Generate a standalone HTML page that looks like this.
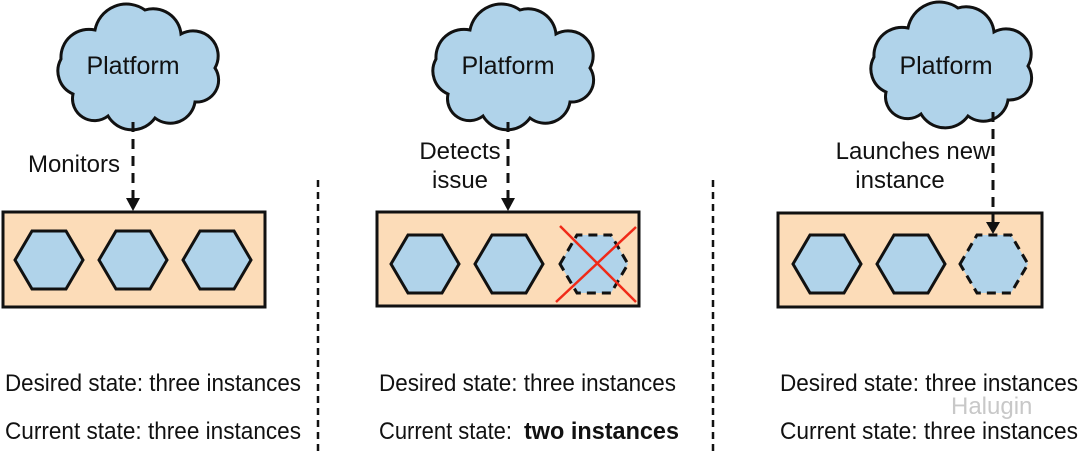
<!DOCTYPE html>
<html><head><meta charset="utf-8"><style>
html,body{margin:0;padding:0;background:#fff;width:1080px;height:454px;overflow:hidden}
text{font-family:"Liberation Sans Narrow","Liberation Sans",sans-serif;fill:#111}
</style></head><body>
<svg width="1080" height="454" viewBox="0 0 1080 454" xmlns="http://www.w3.org/2000/svg">
<defs>
<path id="cloud" d="M -60,30 A 25 25 0 0 1 -72,-5 A 28 28 0 0 1 -38,-34 A 32 32 0 0 1 12,-54 A 28 28 0 0 1 48,-30 A 25 25 0 0 1 82,4 A 22 22 0 0 1 62,38 A 25 25 0 0 1 22,54 A 28 28 0 0 1 -25,52 A 22 22 0 0 1 -60,30 Z" fill="#b0d3ea" stroke="#111" stroke-width="3"/>
<polygon id="hex" points="-34,0 -17,-29 17,-29 34,0 17,29 -17,29" fill="#b0d3ea" stroke="#111" stroke-width="3" stroke-linejoin="miter"/>
<polygon id="hexd" points="-34,0 -17,-29 17,-29 34,0 17,29 -17,29" fill="#b0d3ea" stroke="#111" stroke-width="3" stroke-dasharray="9,6"/>
</defs>
<g font-size="24">
<!-- Panel 1 -->
<use href="#cloud" x="133" y="64"/>
<text x="133" y="74" text-anchor="middle" font-size="25">Platform</text>
<text x="120" y="172" text-anchor="end">Monitors</text>
<rect x="3" y="212" width="262" height="95" fill="#fcdcb8" stroke="#111" stroke-width="3"/>
<line x1="133" y1="122" x2="133" y2="198" stroke="#111" stroke-width="3" stroke-dasharray="10,7"/>
<polygon points="126,198 140,198 133,211" fill="#111"/>
<use href="#hex" x="49" y="260"/><use href="#hex" x="133" y="260"/><use href="#hex" x="217" y="260"/>
<text x="5" y="391" textLength="296" lengthAdjust="spacingAndGlyphs">Desired state: three instances</text>
<text x="5" y="439" textLength="296" lengthAdjust="spacingAndGlyphs">Current state: three instances</text>
<line x1="318" y1="180" x2="318" y2="454" stroke="#111" stroke-width="2.5" stroke-dasharray="7,5"/>
<!-- Panel 2 -->
<use href="#cloud" x="508" y="64"/>
<text x="508" y="74" text-anchor="middle" font-size="25">Platform</text>
<text x="460" y="159" text-anchor="middle">Detects</text>
<text x="460" y="188" text-anchor="middle">issue</text>
<rect x="377" y="212" width="262" height="94" fill="#fcdcb8" stroke="#111" stroke-width="3"/>
<line x1="508" y1="122" x2="508" y2="198" stroke="#111" stroke-width="3" stroke-dasharray="10,7"/>
<polygon points="501,198 515,198 508,211" fill="#111"/>
<use href="#hex" x="425" y="264"/><use href="#hex" x="509" y="264"/><use href="#hexd" x="594" y="264"/>
<line x1="556" y1="302" x2="636" y2="227" stroke="#f02a18" stroke-width="2.5"/>
<line x1="560" y1="226" x2="636" y2="302" stroke="#f02a18" stroke-width="2.5"/>
<text x="379" y="391" textLength="297" lengthAdjust="spacingAndGlyphs">Desired state: three instances</text>
<text x="379" y="439" textLength="133" lengthAdjust="spacingAndGlyphs">Current state:</text>
<text x="524" y="439" font-weight="bold" textLength="155" lengthAdjust="spacingAndGlyphs">two instances</text>
<line x1="713" y1="180" x2="713" y2="454" stroke="#111" stroke-width="2.5" stroke-dasharray="7,5"/>
<!-- Panel 3 -->
<use href="#cloud" x="946" y="62"/>
<text x="946" y="74" text-anchor="middle" font-size="25">Platform</text>
<text x="913" y="159" text-anchor="middle">Launches new</text>
<text x="900" y="188" text-anchor="middle">instance</text>
<rect x="778" y="213" width="264" height="94" fill="#fcdcb8" stroke="#111" stroke-width="3"/>
<use href="#hex" x="827" y="264"/><use href="#hex" x="911" y="264"/><use href="#hexd" x="994" y="264"/>
<line x1="993" y1="112" x2="993" y2="222" stroke="#111" stroke-width="3" stroke-dasharray="10,7"/>
<polygon points="986,222 1000,222 993,234" fill="#111"/>
<text x="780" y="391" textLength="298" lengthAdjust="spacingAndGlyphs">Desired state: three instances</text>
<text x="780" y="439" textLength="298" lengthAdjust="spacingAndGlyphs">Current state: three instances</text>
<text x="951" y="414" font-size="24" style="fill:#c8c8c8">Halugin</text>
</g>
</svg>
</body></html>
